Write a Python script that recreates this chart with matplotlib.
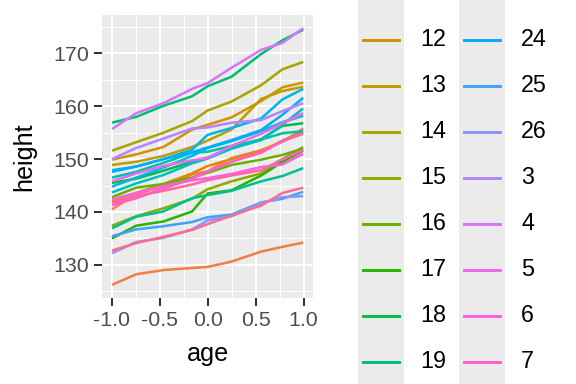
import numpy as np
import matplotlib.pyplot as plt
from matplotlib.patches import Rectangle
from matplotlib.lines import Line2D

# Oxboys: height by standardised age, one line per boy
ages = [-1.0, -0.7479, -0.4630, -0.1643, -0.0027, 0.2466, 0.5562, 0.7781, 0.9945]

h1 = [140.5, 143.4, 144.8, 147.1, 147.7, 150.2, 151.7, 153.3, 155.8]
h2 = [136.9, 139.1, 140.1, 142.6, 143.2, 144.0, 145.8, 146.8, 148.3]
h3 = [150.0, 152.1, 153.9, 155.8, 156.0, 156.9, 157.4, 159.1, 160.6]
h4 = [155.7, 158.7, 160.6, 163.3, 164.4, 167.3, 170.7, 172.0, 174.8]
h5 = [145.8, 147.3, 148.7, 149.8, 150.2, 152.5, 154.8, 156.8, 158.7]
h6 = [142.4, 143.6, 144.9, 146.0, 146.4, 147.2, 148.5, 149.0, 151.0]
h7 = [141.3, 142.6, 144.4, 146.3, 147.6, 149.5, 151.2, 153.4, 154.8]
h8 = [141.7, 143.0, 144.0, 145.2, 146.0, 146.9, 147.9, 150.0, 151.7]
h9 = [132.7, 134.1, 135.3, 136.6, 137.7, 139.3, 141.2, 143.6, 144.6]
h10 = [126.2, 128.2, 129.0, 129.4, 129.6, 130.6, 132.5, 133.4, 134.2]
h11 = [142.0, 143.6, 145.3, 147.3, 148.7, 150.0, 151.4, 153.5, 155.2]
h12 = [149.9, 150.9, 152.3, 155.6, 156.5, 157.9, 161.0, 163.6, 164.5]
h13 = [148.9, 149.5, 150.6, 152.3, 153.5, 155.6, 161.4, 162.9, 163.7]
h14 = [151.6, 153.2, 155.0, 157.2, 159.2, 160.9, 164.0, 167.0, 168.4]
h15 = [137.4, 139.2, 140.7, 142.5, 144.3, 145.8, 147.3, 150.0, 152.3]
h16 = [142.8, 144.6, 145.3, 146.5, 147.4, 148.9, 149.9, 150.8, 152.0]
h17 = [135.0, 137.4, 138.2, 140.1, 143.5, 144.1, 146.9, 149.5, 151.6]
h18 = [145.5, 146.3, 147.8, 149.5, 150.3, 152.0, 153.8, 156.3, 156.8]
h19 = [156.9, 158.0, 160.1, 161.9, 163.8, 165.6, 169.9, 172.5, 174.5]
h20 = [146.5, 147.6, 149.3, 151.2, 151.4, 152.5, 153.7, 154.9, 155.3]
h21 = [143.7, 145.4, 147.0, 149.2, 150.1, 152.0, 153.6, 156.5, 159.6]
h22 = [144.8, 146.5, 148.4, 150.6, 152.1, 153.4, 155.3, 157.0, 158.2]
h23 = [147.9, 148.6, 150.0, 151.8, 154.6, 155.9, 157.7, 161.3, 163.3]
h24 = [147.6, 148.6, 150.0, 151.3, 152.2, 153.6, 155.5, 158.4, 161.6]
h25 = [135.4, 136.7, 137.3, 138.1, 139.0, 139.5, 141.8, 142.5, 143.8]
h26 = [132.2, 134.3, 135.1, 136.7, 138.4, 139.2, 141.7, 142.8, 143.0]

heights = {'1': h1, '2': h2, '3': h3, '4': h4, '5': h5, '6': h6, '7': h7,
           '8': h8, '9': h9, '10': h10, '11': h11, '12': h12, '13': h13,
           '14': h14, '15': h15, '16': h16, '17': h17, '18': h18, '19': h19,
           '20': h20, '21': h21, '22': h22, '23': h23, '24': h24, '25': h25,
           '26': h26}

# factor levels sort as strings, like R does
levels = sorted(heights.keys())


def hcl(h, c=100, l=65):
    # polar LUV -> sRGB, same as R's hcl()
    un, vn = 0.1978398, 0.4683363
    hr = np.deg2rad(h)
    u, v = c * np.cos(hr), c * np.sin(hr)
    Y = 100 * ((l + 16) / 116) ** 3 if l > 8 else 100 * l / 903.3
    up = u / (13 * l) + un
    vp = v / (13 * l) + vn
    X = 9.0 * Y * up / (4 * vp)
    Z = -X / 3 - 5 * Y + 3 * Y / vp
    X, Y, Z = X / 100, Y / 100, Z / 100
    r = 3.240479 * X - 1.537150 * Y - 0.498535 * Z
    g = -0.969256 * X + 1.875992 * Y + 0.041556 * Z
    b = 0.055648 * X - 0.204043 * Y + 1.057311 * Z

    def gam(t):
        t = 1.055 * t ** (1 / 2.4) - 0.055 if t > 0.0031308 else 12.92 * t
        return min(max(t, 0), 1)
    return (gam(r), gam(g), gam(b))


n = len(levels)
colors = {lev: hcl(15 + 360 * i / n) for i, lev in enumerate(levels)}

plt.rcParams['font.family'] = ['Liberation Sans', 'DejaVu Sans']

fig = plt.figure(figsize=(6, 4), dpi=96)
ax = fig.add_axes([102.4 / 576, 1 - 297.7 / 384, (313.3 - 102.4) / 576, (297.7 - 15.3) / 384])
ax.set_facecolor('#EBEBEB')

for lev in levels:
    ax.plot(ages, heights[lev], color=colors[lev], lw=1.9, solid_capstyle='butt')

ax.set_xlim(-1.1, 1.1)
ax.set_ylim(123.77, 177.23)
ax.set_xticks([-1.0, -0.5, 0.0, 0.5, 1.0])
ax.set_xticklabels(['-1.0', '-0.5', '0.0', '0.5', '1.0'])
ax.set_yticks([130, 140, 150, 160, 170])
ax.set_xticks([-0.75, -0.25, 0.25, 0.75], minor=True)
ax.set_yticks([125, 135, 145, 155, 165, 175], minor=True)
ax.grid(which='major', color='white', lw=1.5)
ax.grid(which='minor', color='white', lw=0.75)
ax.set_axisbelow(True)
for s in ax.spines.values():
    s.set_visible(False)
ax.tick_params(which='major', length=6, width=1.5, color='#333333',
               labelsize=16, labelcolor='#4D4D4D', pad=4)
ax.tick_params(which='minor', length=0)
ax.set_xlabel('age', fontsize=18.8, labelpad=9)
ax.set_ylabel('height', fontsize=18.8, labelpad=13)

# legend, drawn by hand so it can run off the figure like the original
lax = fig.add_axes([0, 0, 1, 1], zorder=-1)
lax.set_xlim(0, 576)
lax.set_ylim(384, 0)
lax.axis('off')
rows = 13
row_h = 46.04
key_w = 46
col_x = [358, 459]
for i, lev in enumerate(levels):
    col, r = divmod(i, rows)
    yc = 39.7 + (r - 3) * row_h
    if yc < -row_h / 2 or yc > 384 + row_h / 2:
        continue
    x0 = col_x[col]
    lax.add_patch(Rectangle((x0, yc - row_h / 2), key_w, row_h,
                            facecolor='#EBEBEB', edgecolor='none'))
    lax.add_line(Line2D([x0 + 5, x0 + key_w - 5], [yc, yc],
                        color=colors[lev], lw=2.2))
    if -15 < yc < 400:
        lax.text(x0 + key_w + 16, yc, lev, fontsize=17.5, va='center', ha='left')

fig.savefig('out.png', dpi=96)
